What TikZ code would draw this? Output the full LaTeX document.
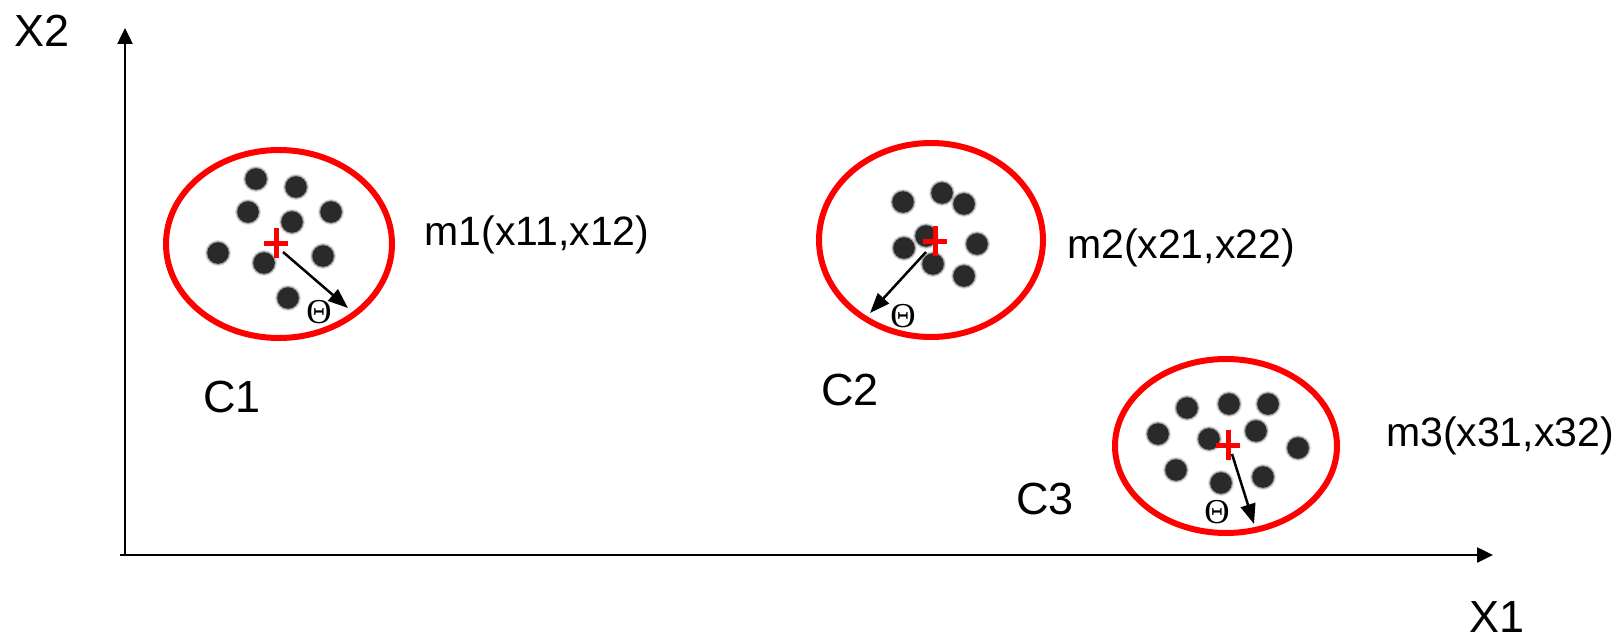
\documentclass[tikz,border=0pt]{standalone}
\usepackage{fontspec}
\setmainfont{Liberation Sans}
\newfontfamily\thetafont{Liberation Serif}
\usetikzlibrary{arrows.meta}
\definecolor{clred}{HTML}{FF0000}
\definecolor{dotgray}{HTML}{2A2A2A}
\tikzset{
  axisline/.style={line width=2.5pt,-{Triangle[length=16pt,width=15pt]}},
  clusterring/.style={draw=clred,line width=6pt},
  radarrow/.style={line width=2.5pt,-{Triangle[length=20pt,width=15pt]}},
  crossline/.style={draw=clred,line width=5pt},
  biglabel/.style={inner sep=0pt,font=\fontsize{45pt}{54pt}\selectfont},
  meanlabel/.style={inner sep=0pt,font=\fontsize{41pt}{48pt}\selectfont},
  thetalabel/.style={inner sep=0pt,font=\fontsize{35pt}{40pt}\selectfont},
  dotpt/.pic={
    \fill[dotgray,opacity=0.15] (0,0) circle[radius=13];
    \fill[dotgray,opacity=0.3] (0,0) circle[radius=12];
    \fill[dotgray] (0,0) circle[radius=10.8];
  }
}
\begin{document}
\begin{tikzpicture}[x=1pt,y=-1pt]
\useasboundingbox (0,0) rectangle (1622,634);
% axes
\coordinate (O) at (125,555);
\coordinate (ytip) at (125,28);
\coordinate (xtip) at (1493,555);
\coordinate (xstart) at (120,555);
\draw[axisline] (O) -- (ytip);
\draw[axisline] (xstart) -- (xtip);
\node[biglabel] (X2) at (42,31) {X2};
\node[biglabel] (X1) at (1497,617) {X1};

% cluster 1
\draw[clusterring] (279,244) ellipse[x radius=113,y radius=94];
\foreach \p in {(256,179),(296,187),(248,212),(292,222),(331,212),(218,253),(264,263),(323,256),(288,298)}
  \pic at \p {dotpt};
\coordinate (m1) at (276,243);
\draw[crossline] (264,243) -- (288,243) (276,228) -- (276,258);
\coordinate (a1s) at (283,252);
\coordinate (a1e) at (348,308);
\draw[radarrow] (a1s) -- (a1e);
\node[thetalabel] (t1) at (319,312) {\thetafont Θ};
\node[meanlabel] (lm1) at (537,235) {m1(x11,x12)};
\node[biglabel] (C1) at (232,397) {C1};

% cluster 2
\draw[clusterring] (931,240) ellipse[x radius=112,y radius=97];
\foreach \p in {(903,202),(942,193),(964,204),(926,236),(904,248),(977,244),(933,264),(964,276)}
  \pic at \p {dotpt};
\coordinate (m2) at (935,241);
\draw[crossline] (923,241) -- (947,241) (935,226) -- (935,256);
\coordinate (a2s) at (926,252);
\coordinate (a2e) at (870,313);
\draw[radarrow] (a2s) -- (a2e);
\node[thetalabel] (t2) at (903,316) {\thetafont Θ};
\node[meanlabel] (lm2) at (1181,248) {m2(x21,x22)};
\node[biglabel] (C2) at (850,390) {C2};

% cluster 3
\draw[clusterring] (1226,446) ellipse[x radius=111,y radius=87];
\foreach \p in {(1187,408),(1229,404),(1268,404),(1158,434),(1209,439),(1256,431),(1298,448),(1176,470),(1221,483),(1263,477)}
  \pic at \p {dotpt};
\coordinate (m3) at (1228,445);
\draw[crossline] (1216,445) -- (1240,445) (1228,430) -- (1228,460);
\coordinate (a3s) at (1232,454);
\coordinate (a3e) at (1254,524);
\draw[radarrow] (a3s) -- (a3e);
\node[thetalabel] (t3) at (1217,512) {\thetafont Θ};
\node[meanlabel] (lm3) at (1500,436) {m3(x31,x32)};
\node[biglabel] (C3) at (1045,499) {C3};
\end{tikzpicture}
\end{document}
